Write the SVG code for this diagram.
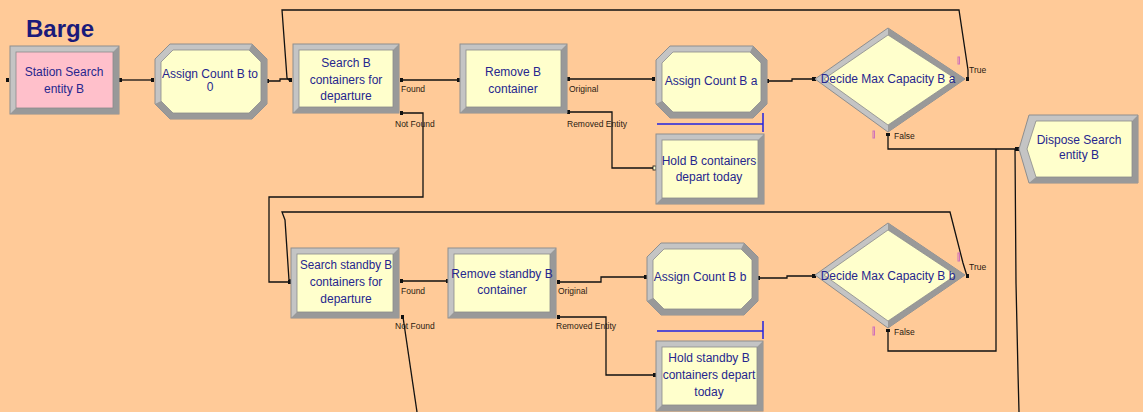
<svg xmlns="http://www.w3.org/2000/svg" width="1143" height="412" viewBox="0 0 1143 412">
<style>
.lt{fill:#C4C4C4;stroke:#8E8E8E;stroke-width:1}
.dk{fill:#999999;stroke:none}
.in{fill:#FFFFCC;stroke:#8A8A8A;stroke-width:0.8}
.pk{fill:#FFC0CB;stroke:#8A8A8A;stroke-width:0.8}
.t{font-family:"Liberation Sans",Arial,sans-serif;font-size:12px;fill:#26268E;text-anchor:middle}
.lb{font-family:"Liberation Sans",Arial,sans-serif;font-size:8.5px;fill:#2A1A10}
.ln{fill:none;stroke:#111;stroke-width:1.3}
.dot{fill:#111}
.bl{fill:none;stroke:#2323E0;stroke-width:1.5}
.mk{fill:none;stroke:#D070B8;stroke-width:1}
</style>
<rect x="0" y="0" width="1143" height="412" fill="#FFCA98"/>
<text x="26" y="37" font-family="'Liberation Sans',Arial,sans-serif" font-size="24" font-weight="bold" fill="#1A1A7A">Barge</text>

<g id="connectors">
<path class="ln" d="M121,80 H153"/>
<path class="ln" d="M268,81 H280 V79 H292"/>
<path class="ln" d="M968,79 V70 L959,10 H282 L287,78 L289,80 H292"/>
<path class="ln" d="M401,80 H459"/>
<path class="ln" d="M402,113 H423 V197 H269 V282 H291"/>
<path class="ln" d="M568,79 H654"/>
<path class="ln" d="M568,112 H612 V168 H656"/>
<path class="ln" d="M768,81 H792 V79 H815"/>
<path class="ln" d="M888,134 V149 H1019"/>
<path class="ln" d="M967,276 L963,263 L950,212 H282 L285,220 L289,280 H291"/>
<path class="ln" d="M401,281 H448"/>
<path class="ln" d="M403,317 L417,412"/>
<path class="ln" d="M559,282 H601 V277 H647"/>
<path class="ln" d="M559,317 H606 V375 H656"/>
<path class="ln" d="M759,278 H787 V276 H815"/>
<path class="ln" d="M888,330 V351 H996 V149"/>
<path class="ln" d="M1019,412 L1018,373 L1016,283 L1015,149"/>
<rect class="dot" x="6" y="78" width="3" height="4"/>
<rect class="dot" x="119" y="78" width="3" height="4"/>
<rect class="dot" x="151" y="78" width="3" height="4"/>
<rect class="dot" x="266" y="79" width="3" height="4"/>
<rect class="dot" x="289" y="78" width="3" height="4"/>
<rect class="dot" x="400" y="78" width="3" height="4"/>
<rect class="dot" x="400" y="111" width="3" height="4"/>
<rect class="dot" x="457" y="78" width="3" height="4"/>
<rect class="dot" x="567" y="77" width="3" height="4"/>
<rect class="dot" x="567" y="110" width="3" height="4"/>
<rect class="dot" x="652" y="77" width="3" height="4"/>
<rect x="653" y="166" width="3" height="4" fill="#FFFFCC" stroke="#111" stroke-width="0.8"/>
<rect class="dot" x="766" y="79" width="3" height="4"/>
<rect class="dot" x="812" y="77" width="4" height="4"/>
<rect class="dot" x="966" y="77" width="3" height="4"/>
<rect class="dot" x="886" y="133" width="4" height="3"/>
<rect class="dot" x="1015" y="147" width="4" height="4"/>
<rect class="dot" x="288" y="280" width="3" height="4"/>
<rect class="dot" x="400" y="279" width="3" height="4"/>
<rect class="dot" x="401" y="315" width="3" height="4"/>
<rect class="dot" x="446" y="279" width="3" height="4"/>
<rect class="dot" x="557" y="280" width="3" height="4"/>
<rect class="dot" x="557" y="315" width="3" height="4"/>
<rect class="dot" x="644" y="275" width="3" height="4"/>
<rect class="dot" x="653" y="373" width="3" height="4"/>
<rect class="dot" x="757" y="276" width="3" height="4"/>
<rect class="dot" x="812" y="274" width="4" height="4"/>
<rect class="dot" x="966" y="274" width="3" height="4"/>
<rect class="dot" x="886" y="329" width="4" height="3"/>
</g>

<g id="labels">
<text class="lb" x="401" y="92">Found</text>
<text class="lb" x="395" y="127">Not Found</text>
<text class="lb" x="569" y="92">Original</text>
<text class="lb" x="567" y="127">Removed Entity</text>
<text class="lb" x="969" y="73" font-size="7.5">True</text>
<text class="lb" x="894" y="139" font-size="7.5">False</text>
<text class="lb" x="401" y="294">Found</text>
<text class="lb" x="395" y="329">Not Found</text>
<text class="lb" x="558" y="294">Original</text>
<text class="lb" x="556" y="329">Removed Entity</text>
<text class="lb" x="969" y="270" font-size="7.5">True</text>
<text class="lb" x="894" y="335" font-size="7.5">False</text>
</g>

<g id="station-search-entity-b">
<rect class="lt" x="10" y="46" width="109" height="68"/>
<polygon class="dk" points="119,46 119,114 10,114 16,108 113,108 113,52"/>
<rect class="pk" x="16" y="52" width="97" height="56"/>
<text class="t" x="64" y="76">Station Search</text>
<text class="t" x="64" y="93">entity B</text>
</g>

<g id="assign-count-b-to-0">
<polygon class="lt" points="170,44 252,44 267,59 267,104 252,119 170,119 155,104 155,59"/>
<polygon class="dk" points="252,44 267,59 267,104 252,119 170,119 155,104 161,101 173,113 249,113 261,101 261,62 249,50"/>
<polygon class="in" points="173,50 249,50 261,62 261,101 249,113 173,113 161,101 161,62"/>
<text class="t" x="210" y="78">Assign Count B to</text>
<text class="t" x="210" y="91">0</text>
</g>

<g id="search-b-containers">
<rect class="lt" x="293" y="44" width="106" height="69"/>
<polygon class="dk" points="399,44 399,113 293,113 299,107 393,107 393,50"/>
<rect class="in" x="299" y="50" width="94" height="57"/>
<text class="t" x="346" y="67">Search B</text>
<text class="t" x="346" y="84">containers for</text>
<text class="t" x="346" y="100">departure</text>
</g>

<g id="remove-b-container">
<rect class="lt" x="460" y="44" width="107" height="69"/>
<polygon class="dk" points="567,44 567,113 460,113 466,107 561,107 561,50"/>
<rect class="in" x="466" y="50" width="95" height="57"/>
<text class="t" x="513" y="76">Remove B</text>
<text class="t" x="513" y="93">container</text>
</g>

<g id="assign-count-b-a">
<polygon class="lt" points="670,46 753,46 767,60 767,104 753,118 670,118 656,104 656,60"/>
<polygon class="dk" points="753,46 767,60 767,104 753,118 670,118 656,104 662,101 673,112 750,112 761,101 761,63 750,52"/>
<polygon class="in" points="673,52 750,52 761,63 761,101 750,112 673,112 662,101 662,63"/>
<text class="t" x="711" y="85">Assign Count B a</text>
<path class="bl" d="M657,124 H763 M763,113 V132"/>
</g>

<g id="hold-b-containers">
<rect class="lt" x="656" y="134" width="108" height="70"/>
<polygon class="dk" points="764,134 764,204 656,204 662,198 758,198 758,140"/>
<rect class="in" x="662" y="140" width="96" height="58"/>
<text class="t" x="709" y="165">Hold B containers</text>
<text class="t" x="709" y="181">depart today</text>
</g>

<g id="decide-max-capacity-b-a">
<polygon class="lt" points="815,79 888,28 965,79 888,132"/>
<polygon class="dk" points="888,28 965,79 888,132 888,125 956,79 888,35"/>
<polygon class="in" points="824,79 888,35 956,79 888,125"/>
<text class="t" x="888" y="83">Decide Max Capacity B a</text>
<rect class="mk" x="958" y="57" width="1.5" height="7"/>
<rect class="mk" x="873" y="131" width="1.5" height="7"/>
</g>

<g id="dispose-search-entity-b">
<polygon class="lt" points="1029,115 1138,115 1138,183 1029,183 1019,149"/>
<polygon class="dk" points="1138,115 1138,183 1029,183 1036,177 1132,177 1132,121"/>
<polygon class="in" points="1036,121 1132,121 1132,177 1036,177 1027,149"/>
<text class="t" x="1079" y="144">Dispose Search</text>
<text class="t" x="1079" y="159">entity B</text>
</g>

<g id="search-standby-b-containers">
<rect class="lt" x="291" y="248" width="108" height="70"/>
<polygon class="dk" points="399,248 399,318 291,318 297,312 393,312 393,254"/>
<rect class="in" x="297" y="254" width="96" height="58"/>
<text class="t" x="346" y="269" textLength="92" lengthAdjust="spacingAndGlyphs">Search standby B</text>
<text class="t" x="346" y="286">containers for</text>
<text class="t" x="346" y="303">departure</text>
</g>

<g id="remove-standby-b-container">
<rect class="lt" x="448" y="248" width="108" height="70"/>
<polygon class="dk" points="556,248 556,318 448,318 454,312 550,312 550,254"/>
<rect class="in" x="454" y="254" width="96" height="58"/>
<text class="t" x="502" y="278">Remove standby B</text>
<text class="t" x="502" y="294">container</text>
</g>

<g id="assign-count-b-b">
<polygon class="lt" points="661,243 744,243 758,257 758,301 744,315 661,315 647,301 647,257"/>
<polygon class="dk" points="744,243 758,257 758,301 744,315 661,315 647,301 653,298 664,309 741,309 752,298 752,260 741,249"/>
<polygon class="in" points="664,249 741,249 752,260 752,298 741,309 664,309 653,298 653,260"/>
<text class="t" x="700" y="281">Assign Count B b</text>
<path class="bl" d="M657,331 H763 M763,321 V339"/>
</g>

<g id="hold-standby-b-containers">
<rect class="lt" x="656" y="341" width="107" height="70"/>
<polygon class="dk" points="763,341 763,411 656,411 662,405 757,405 757,347"/>
<rect class="in" x="662" y="347" width="95" height="58"/>
<text class="t" x="709" y="362">Hold standby B</text>
<text class="t" x="709" y="379">containers depart</text>
<text class="t" x="709" y="396">today</text>
</g>

<g id="decide-max-capacity-b-b">
<polygon class="lt" points="815,275 888,223 965,275 888,328"/>
<polygon class="dk" points="888,223 965,275 888,328 888,321 956,275 888,230"/>
<polygon class="in" points="824,275 888,230 956,275 888,321"/>
<text class="t" x="888" y="280">Decide Max Capacity B b</text>
<rect class="mk" x="958" y="253" width="1.5" height="8"/>
<rect class="mk" x="873" y="327" width="1.5" height="8"/>
</g>
</svg>
